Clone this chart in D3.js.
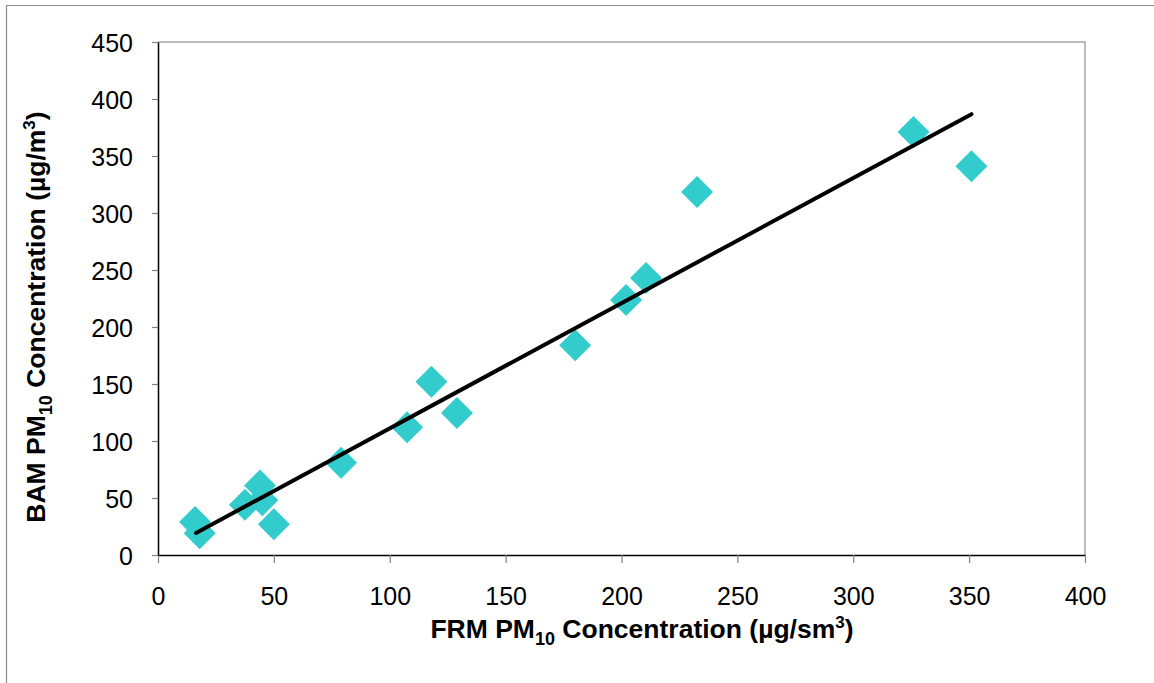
<!DOCTYPE html>
<html><head><meta charset="utf-8">
<script src="https://cdn.jsdelivr.net/npm/d3@7"></script>
<style>body{margin:0;background:#fff}svg{display:block;font-family:"Liberation Sans",Arial,sans-serif}</style>
</head><body><svg id="c" width="1154" height="683"></svg>
<script>
const frmValues = [16, 18, 37.5, 44, 45, 50, 79, 107.5, 118, 129, 180, 202, 210.6, 232.6, 326, 351];
const bamValues = [29, 19, 44, 61, 48, 27, 81, 112, 152, 124.6, 184, 223.7, 243, 318.4, 371, 341];
const xTicks = [0, 50, 100, 150, 200, 250, 300, 350, 400];
const yTicks = [0, 50, 100, 150, 200, 250, 300, 350, 400, 450];
const trendSlope = 1.098;
const trendIntercept = 1.3;

const svg = d3.select("#c");
const L = 158, R = 1085, T = 42, B = 555;
const x = d3.scaleLinear().domain([0, 400]).range([L, R]);
const y = d3.scaleLinear().domain([0, 450]).range([B, T]);

// outer frame
svg.append("path").attr("d", `M6.5,683 V5.5 H1154`).attr("fill", "none").attr("stroke", "#8c8c8c").attr("stroke-width", 1.2);

// plot border top/right
svg.append("path").attr("d", `M${L},${T} H${R} V${B}`).attr("fill", "none").attr("stroke", "#a6a6a6").attr("stroke-width", 1.5);

const xAxis = svg.append("g").attr("transform", `translate(0,${B})`)
  .call(d3.axisBottom(x).tickValues(xTicks).tickSize(8).tickSizeOuter(0).tickPadding(24));
const yAxis = svg.append("g").attr("transform", `translate(${L},0)`)
  .call(d3.axisLeft(y).tickValues(yTicks).tickSize(6).tickSizeOuter(0).tickPadding(19));
[xAxis, yAxis].forEach(g => {
  g.select(".domain").attr("stroke", "#000").attr("stroke-width", 1.5);
  g.selectAll(".tick line").attr("stroke", "#808080").attr("stroke-width", 1.2);
  g.selectAll(".tick text").attr("fill", "#000").attr("font-size", 25).attr("font-family", '"Liberation Sans",Arial,sans-serif');
});
yAxis.selectAll(".tick text").attr("dy", "0.36em");

// points
const pts = frmValues.map((v, i) => [v, bamValues[i]]);
const s = 16;
svg.append("g").selectAll("path").data(pts).join("path")
  .attr("d", d => { const cx = x(d[0]), cy = y(d[1]); return `M${cx},${cy - s} L${cx + s},${cy} L${cx},${cy + s} L${cx - s},${cy} Z`; })
  .attr("fill", "#33CCCC");

// trend line
const x0 = d3.min(frmValues) + 0.4, x1 = d3.max(frmValues);
svg.append("line")
  .attr("x1", x(x0)).attr("y1", y(trendIntercept + trendSlope * x0))
  .attr("x2", x(x1)).attr("y2", y(trendIntercept + trendSlope * x1))
  .attr("stroke", "#000").attr("stroke-width", 4).attr("stroke-linecap", "round");

// axis titles
function title(t, parts) {
  t.append("tspan").text(parts[0]);
  t.append("tspan").attr("font-size", 18).attr("dy", 7).text("10");
  t.append("tspan").attr("dy", -7).text(parts[1]);
  t.append("tspan").attr("font-size", 17).attr("dy", -10).text("3");
  t.append("tspan").attr("dy", 10).text(")");
}
const xt = svg.append("text").attr("x", 642).attr("y", 638).attr("text-anchor", "middle")
  .attr("font-size", 26.5).attr("font-weight", "bold");
title(xt, ["FRM PM", " Concentration (µg/sm"]);

const yt = svg.append("text").attr("transform", "translate(45,317) rotate(-90)").attr("text-anchor", "middle")
  .attr("font-size", 26.5).attr("font-weight", "bold");
title(yt, ["BAM PM", " Concentration (µg/m"]);
</script></body></html>
